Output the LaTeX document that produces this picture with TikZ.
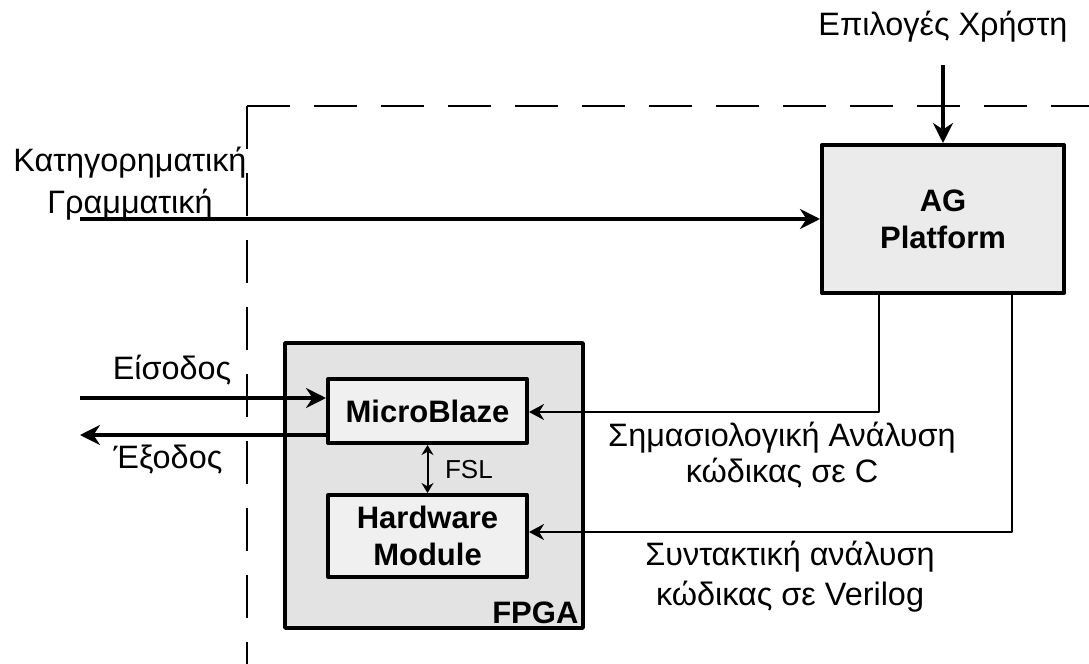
\documentclass[tikz,border=0pt]{standalone}
\usepackage{fontspec}
\setmainfont{Liberation Sans}
\usetikzlibrary{arrows.meta}
\tikzset{
  every picture/.style={font=\fontsize{16.2}{18}\selectfont, line join=round, >=Stealth},
  block/.style={draw, line width=2pt, inner sep=0pt, align=center,
    font=\fontsize{15.5}{18.5}\selectfont\bfseries},
  thickflow/.style={line width=2pt, -{Stealth[length=10pt,width=10pt]}},
  thinflow/.style={line width=1pt, -{Stealth[length=7.5pt,width=8pt]}},
  fslflow/.style={line width=1pt, {Stealth[length=5pt,width=6pt]}-{Stealth[length=5pt,width=6pt]}},
  border/.style={line width=1pt, dash pattern=on 21.5pt off 12pt},
}

\begin{document}
\begin{tikzpicture}[x=0.5pt,y=-0.5pt]
\useasboundingbox (0,0) rectangle (1089,664);
% system boundary
\coordinate (corner) at (247,106);
\draw[border] (corner) -- (247,664);
\draw[border] (corner) -- (1089,106);
% blocks
\node[block, fill=black!8, minimum width=121pt, minimum height=74pt] (ag) at (943,219) {AG\\Platform};
\node[block, line width=1.8pt, fill=black!11, minimum width=149pt, minimum height=142.5pt] (fpga) at (434,485.5) {};
\node[anchor=south east, inner sep=3pt, font=\fontsize{15.5}{18}\selectfont\bfseries] (fpgalabel) at (fpga.south east) {FPGA};
\node[block, fill=black!6, minimum width=99.5pt, minimum height=32pt] (mb) at (427.5,411) {MicroBlaze};
\node[block, fill=black!6, minimum width=99.5pt, minimum height=41pt] (hw) at (427.5,536) {Hardware\\Module};
% texts
\node (user) at (943,27) {Επιλογές Χρήστη};
\node[align=center, font=\fontsize{16.2}{21}\selectfont] (grammar) at (130,184) {Κατηγορηματική\\Γραμματική};
\node (inlabel) at (172,370) {Είσοδος};
\node (outlabel) at (168,460) {Έξοδος};
\node[align=center] (clabel) at (782,455) {Σημασιολογική Ανάλυση\\κώδικας σε C};
\node[align=center, font=\fontsize{16.2}{20}\selectfont] (vlabel) at (790,577) {Συντακτική ανάλυση\\κώδικας σε Verilog};
\node[anchor=west, font=\fontsize{13}{15}\selectfont] (fsl) at (438,470) {FSL};
% connectors
\coordinate (userin) at (943,65);
\coordinate (grammarin) at (80,219);
\coordinate (inport) at (80,398);
\coordinate (outport) at (80,435);
\coordinate (cbranch) at (879,412);
\coordinate (vbranch) at (1012,532);
\draw[thickflow] (userin) -- (ag.north);
\draw[thickflow] (grammarin) -- (ag.west);
\draw[thickflow] (inport) -- (inport -| mb.west);
\draw[thickflow] (outport -| mb.west) -- (outport);
\draw[thinflow] (ag.south -| cbranch) -- (cbranch) -- (cbranch -| mb.east);
\draw[thinflow] (ag.south -| vbranch) -- (vbranch) -- (vbranch -| hw.east);
\draw[fslflow] (mb.south) -- (hw.north);
\end{tikzpicture}
\end{document}
